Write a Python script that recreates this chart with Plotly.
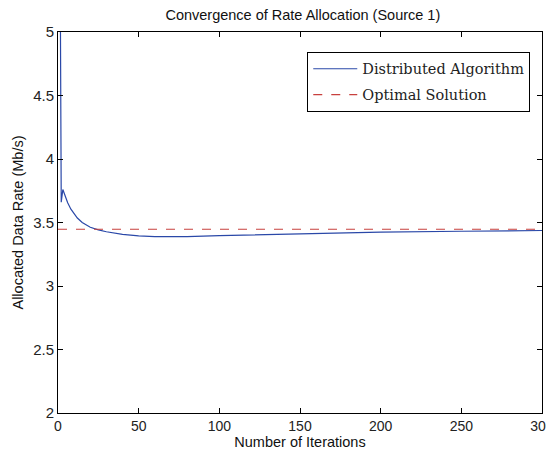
import plotly.graph_objects as go

iterations = [1, 2, 3, 4, 5, 6, 8, 10, 12, 15, 20, 25, 30, 40, 50, 60, 70, 80, 100, 125, 150, 175, 200, 250, 300]
rate = [6.5, 3.66, 3.76, 3.72, 3.685, 3.655, 3.605, 3.565, 3.535, 3.50, 3.463, 3.442, 3.427, 3.406, 3.394, 3.388, 3.387, 3.389, 3.396, 3.404, 3.412, 3.419, 3.424, 3.431, 3.437]
optimal_x = [0, 300]
optimal_y = [3.447, 3.447]

x_ticks = [0, 50, 100, 150, 200, 250, 300]
y_ticks = [2, 2.5, 3, 3.5, 4, 4.5, 5]
y_tick_text = ["2", "2.5", "3", "3.5", "4", "4.5", "5"]

sans = "Liberation Sans, Arial"
fig = go.Figure()
fig.add_trace(go.Scatter(x=iterations, y=rate, mode="lines",
                         line=dict(color="#2a48a8", width=1.2),
                         name="Distributed Algorithm", legendgroup="a"))
fig.add_trace(go.Scatter(x=optimal_x, y=optimal_y, mode="lines",
                         line=dict(color="#c8403e", width=1.2, dash="dash"),
                         name="Optimal Solution", legendgroup="b"))

axis_common = dict(showline=True, linecolor="black", linewidth=1, mirror="ticks",
                   ticks="inside", ticklen=5, tickcolor="black", showgrid=False,
                   zeroline=False, automargin=False, ticklabeloverflow="allow")

# page body has an 8px margin, so the figure is sized to fill the remaining window
fig.update_layout(
    width=546, height=446,
    margin=dict(l=50, r=12, t=24, b=41),
    paper_bgcolor="white", plot_bgcolor="white",
    title=dict(text="Convergence of Rate Allocation (Source 1)", x=0.54, xanchor="center",
               yref="container", y=0.984, yanchor="middle",
               font=dict(family=sans, size=14.5, color="#111")),
    xaxis=dict(range=[0, 300], tickvals=x_ticks,
               tickfont=dict(family=sans, size=14, color="#222"),
               title=dict(text="Number of Iterations", standoff=0,
                          font=dict(family=sans, size=14.5, color="#111")),
               **axis_common),
    yaxis=dict(range=[2, 5], tickvals=y_ticks, ticktext=y_tick_text,
               tickfont=dict(family=sans, size=15, color="#222"),
               title=dict(text="Allocated Data Rate (Mb/s)", standoff=6,
                          font=dict(family=sans, size=14.5, color="#111")),
               **axis_common),
    legend=dict(x=0.515, y=0.948, xanchor="left", yanchor="top",
                bordercolor="black", borderwidth=1, bgcolor="white",
                traceorder="grouped", tracegroupgap=4, itemwidth=44,
                font=dict(family="DejaVu Serif", size=14.5, color="#222")),
    showlegend=True,
)

fig.write_html("out.html")
